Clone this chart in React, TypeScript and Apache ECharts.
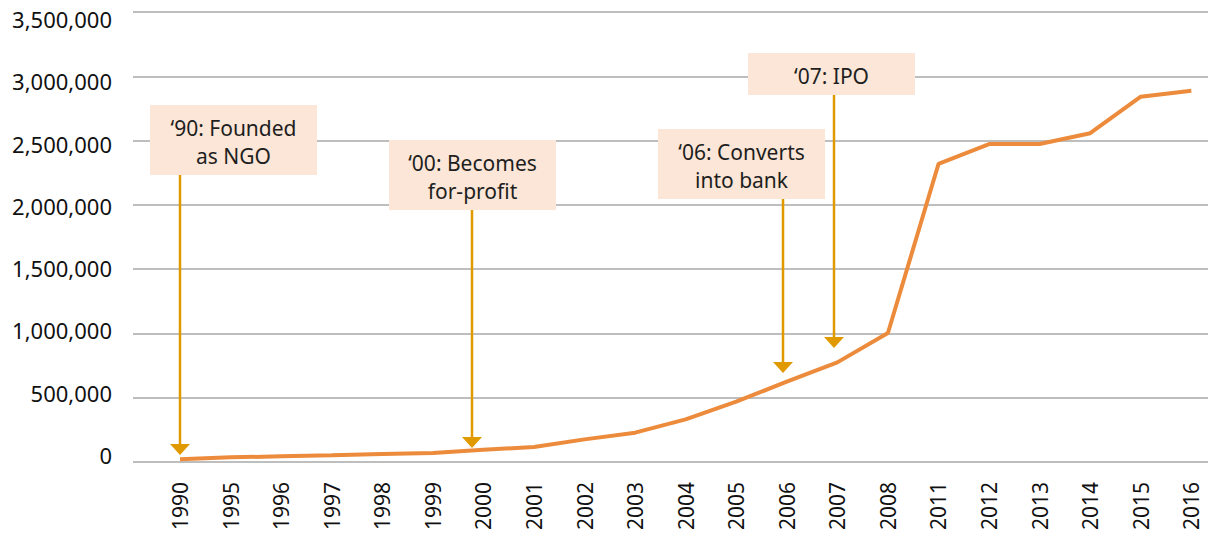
import React, { useEffect, useRef } from "react";
import * as echarts from "echarts";

const years = ["1990","1995","1996","1997","1998","1999","2000","2001","2002","2003","2004","2005","2006","2007","2008","2011","2012","2013","2014","2015","2016"];
const clients = [22000, 36000, 44000, 52000, 62000, 70000, 95000, 117000, 176000, 228000, 332000, 469000, 625000, 775000, 1003000, 2318000, 2473000, 2473000, 2557000, 2841000, 2888000];
const yTicks = [0, 500000, 1000000, 1500000, 2000000, 2500000, 3000000, 3500000];

const notes = [
  { lines: ["‘90: Founded", "as NGO"], box: [150, 105, 167, 70], arrowX: 180, tipY: 455 },
  { lines: ["‘00: Becomes", "for-profit"], box: [389, 140, 167, 70], arrowX: 472, tipY: 448 },
  { lines: ["‘06: Converts", "into bank"], box: [658, 129, 167, 70], arrowX: 783, tipY: 373 },
  { lines: ["‘07: IPO"], box: [748, 53, 167, 42], arrowX: 834, tipY: 348 },
];

const LINE = "#EC8B3B";
const ARROW = "#E09A00";
const BOX = "#FBE6D7";
const GRID = "#A8A8A8";
const FONT = "'Noto Sans', sans-serif";

export default function App() {
  const ref = useRef<HTMLDivElement>(null);
  useEffect(() => {
    document.body.style.margin = "0";
    const chart = echarts.init(ref.current!, null, { renderer: "svg" });
    const graphics: any[] = [];
    notes.forEach((n) => {
      const [bx, by, bw, bh] = n.box;
      graphics.push({
        type: "line",
        z: 100,
        shape: { x1: n.arrowX, y1: by + bh, x2: n.arrowX, y2: n.tipY - 10 },
        style: { stroke: ARROW, lineWidth: 2.5 },
      });
      graphics.push({
        type: "polygon",
        z: 100,
        shape: { points: [[n.arrowX - 10, n.tipY - 11], [n.arrowX + 10, n.tipY - 11], [n.arrowX, n.tipY]] },
        style: { fill: ARROW },
      });
      graphics.push({
        type: "rect",
        z: 101,
        shape: { x: bx, y: by, width: bw, height: bh },
        style: { fill: BOX },
      });
      graphics.push({
        type: "text",
        z: 102,
        style: {
          text: n.lines.join("\n"),
          x: bx + bw / 2,
          y: by + bh / 2 + 2,
          textAlign: "center",
          textVerticalAlign: "middle",
          fontSize: 21,
          fontFamily: FONT,
          lineHeight: 28,
          fill: "#1E1E1E",
        },
      });
    });

    chart.setOption({
      animation: false,
      backgroundColor: "#ffffff",
      grid: { left: 133, right: 0, top: 12, bottom: 74, containLabel: false, outerBoundsMode: "none" },
      xAxis: {
        type: "value",
        min: -0.93,
        max: 20.33,
        axisLine: { show: false },
        axisTick: { show: false },
        splitLine: { show: false },
        axisLabel: {
          customValues: years.map((_, i) => i),
          formatter: (v: number) => years[Math.round(v)] ?? "",
          rotate: 90,
          margin: 20,
          fontSize: 21,
          fontFamily: FONT,
          color: "#111",
        },
      },
      yAxis: [
        {
          type: "value",
          min: 0,
          max: 3500000,
          interval: 500000,
          axisLine: { show: false },
          axisTick: { show: false },
          axisLabel: { show: false },
          splitLine: { lineStyle: { color: GRID, width: 1.6 } },
        },
        {
          type: "value",
          position: "left",
          min: -56193,
          max: 3556193,
          axisLine: { show: false },
          axisTick: { show: false },
          splitLine: { show: false },
          axisLabel: {
            customValues: yTicks,
            formatter: (v: number) => Math.round(v).toLocaleString("en-US"),
            margin: 21,
            fontSize: 22,
            fontFamily: FONT,
            color: "#111",
          },
        },
      ],
      series: [
        {
          type: "line",
          yAxisIndex: 0,
          data: clients.map((v, i) => [i, v]),
          showSymbol: false,
          symbol: "none",
          lineStyle: { color: LINE, width: 4 },
          z: 5,
        },
      ],
      graphic: graphics,
    });
    return () => chart.dispose();
  }, []);
  return <div ref={ref} style={{ width: 1208, height: 536 }} />;
}
